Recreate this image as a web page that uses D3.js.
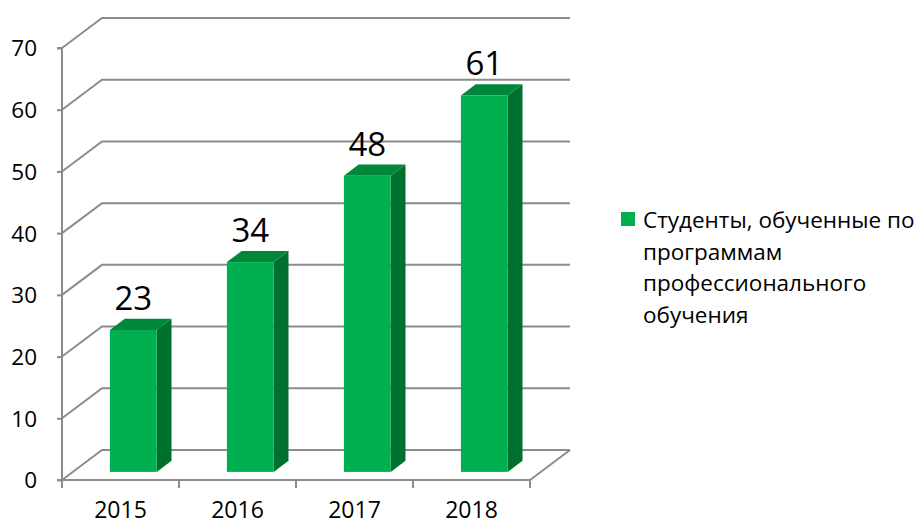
<!DOCTYPE html>
<html>
<head>
<meta charset="utf-8">
<script src="https://cdn.jsdelivr.net/npm/d3@7"></script>
<style>
  body { margin: 0; background: #fff; }
  text { font-family: "Open Sans", sans-serif; fill: #000; }
</style>
</head>
<body>
<div class="chart"></div>
<script>
var years = ['2015', '2016', '2017', '2018']
var students = [23, 34, 48, 61]
var yTicks = [0, 10, 20, 30, 40, 50, 60, 70]
var seriesName = ['Студенты, обученные по', 'программам', 'профессионального', 'обучения']

var width = 924, height = 525
var svg = d3.select('.chart').append('svg')
    .attr('width', width)
    .attr('height', height)

// front plane of the plot
var x = d3.scaleBand().domain(years).range([62, 530]).paddingInner(0.6).paddingOuter(0.3)
var y = d3.scaleLinear().domain([0, 70]).range([480, 48])
var step = x.step()

// depth of the 3d box
var dX = 40, dY = -30
var barZ = 0.27, barD = 0.37
var grid = '#8c8c8c'

// gridlines on back wall + diagonal on left wall
var g = svg.append('g')
g.selectAll('path.grid')
    .data(yTicks)
    .enter()
    .append('path')
    .attr('class', 'grid')
    .attr('fill', 'none')
    .attr('stroke', grid)
    .attr('stroke-width', 2)
    .attr('d', function(d) {
        var yy = y(d)
        return 'M62,' + yy + 'L' + (62 + dX) + ',' + (yy + dY) + 'L' + (530 + dX) + ',' + (yy + dY)
    })

// floor, right edge
g.append('path')
    .attr('fill', 'none')
    .attr('stroke', grid)
    .attr('stroke-width', 2)
    .attr('d', 'M530,' + y(0) + 'L' + (530 + dX) + ',' + (y(0) + dY))

// bars
var bars = svg.append('g').selectAll('g.bar')
    .data(students)
    .enter()
    .append('g')
    .attr('class', 'bar')

function bx(i) { return x(years[i]) + barZ * dX + 2 }
var bw = x.bandwidth()
var bBase = y(0) + barZ * dY
var ox = barD * dX, oy = barD * dY

bars.append('path')
    .attr('fill', '#00702e')
    .attr('d', function(d, i) {
        var x1 = bx(i) + bw, top = bBase - (y(0) - y(d))
        return 'M' + x1 + ',' + bBase + 'L' + (x1 + ox) + ',' + (bBase + oy) +
            'L' + (x1 + ox) + ',' + (top + oy) + 'L' + x1 + ',' + top + 'Z'
    })
bars.append('path')
    .attr('fill', '#00873a')
    .attr('d', function(d, i) {
        var x0 = bx(i), top = bBase - (y(0) - y(d))
        return 'M' + x0 + ',' + top + 'L' + (x0 + bw) + ',' + top +
            'L' + (x0 + bw + ox) + ',' + (top + oy) + 'L' + (x0 + ox) + ',' + (top + oy) + 'Z'
    })
bars.append('rect')
    .attr('fill', '#00b050')
    .attr('x', function(d, i) { return bx(i) })
    .attr('width', bw)
    .attr('y', function(d) { return bBase - (y(0) - y(d)) })
    .attr('height', function(d) { return y(0) - y(d) })

bars.append('text')
    .attr('x', function(d, i) { return bx(i) + bw / 2 })
    .attr('y', function(d) { return bBase - (y(0) - y(d)) + oy - 9 })
    .attr('text-anchor', 'middle')
    .style('font-size', '33px')
    .text(function(d) { return d })

// axes
var yAxis = d3.axisLeft(y).tickValues(yTicks).tickSize(5).tickPadding(20)
var xAxis = d3.axisBottom(x).tickSize(0).tickPadding(22)

var ya = svg.append('g')
    .attr('transform', 'translate(62,0)')
    .call(yAxis)
ya.select('.domain').attr('stroke', grid).attr('stroke-width', 2).attr('d', 'M-5,' + y(70) + 'H0V' + y(0) + 'H-5')
ya.selectAll('line').attr('stroke', grid).attr('stroke-width', 2)
ya.selectAll('text').style('font-size', '22.5px').attr('x', -25).attr('dy', '0.35em')

var xa = svg.append('g')
    .attr('transform', 'translate(0,' + y(0) + ')')
    .call(xAxis)
xa.select('.domain').attr('stroke', grid).attr('stroke-width', 2).attr('d', 'M62,0H530')
xa.selectAll('text').style('font-size', '23px').attr('dy', '0.71em')

// category boundary ticks
xa.selectAll('line.sep')
    .data(years.map(function(d, i) { return 62 + step * (i + 1) }).concat([62]))
    .enter()
    .append('line')
    .attr('class', 'sep')
    .attr('x1', function(d) { return d })
    .attr('x2', function(d) { return d })
    .attr('y1', 0)
    .attr('y2', 8)
    .attr('stroke', grid)
    .attr('stroke-width', 2)

// legend
var legend = svg.append('g').attr('transform', 'translate(621,212)')
legend.append('rect')
    .attr('width', 14)
    .attr('height', 14)
    .attr('fill', '#00b050')
legend.append('text')
    .attr('y', 16)
    .style('font-size', '22.5px')
    .selectAll('tspan')
    .data(seriesName)
    .enter()
    .append('tspan')
    .attr('x', 22)
    .attr('dy', function(d, i) { return i ? 31.5 : 0 })
    .text(function(d) { return d })
</script>
</body>
</html>
